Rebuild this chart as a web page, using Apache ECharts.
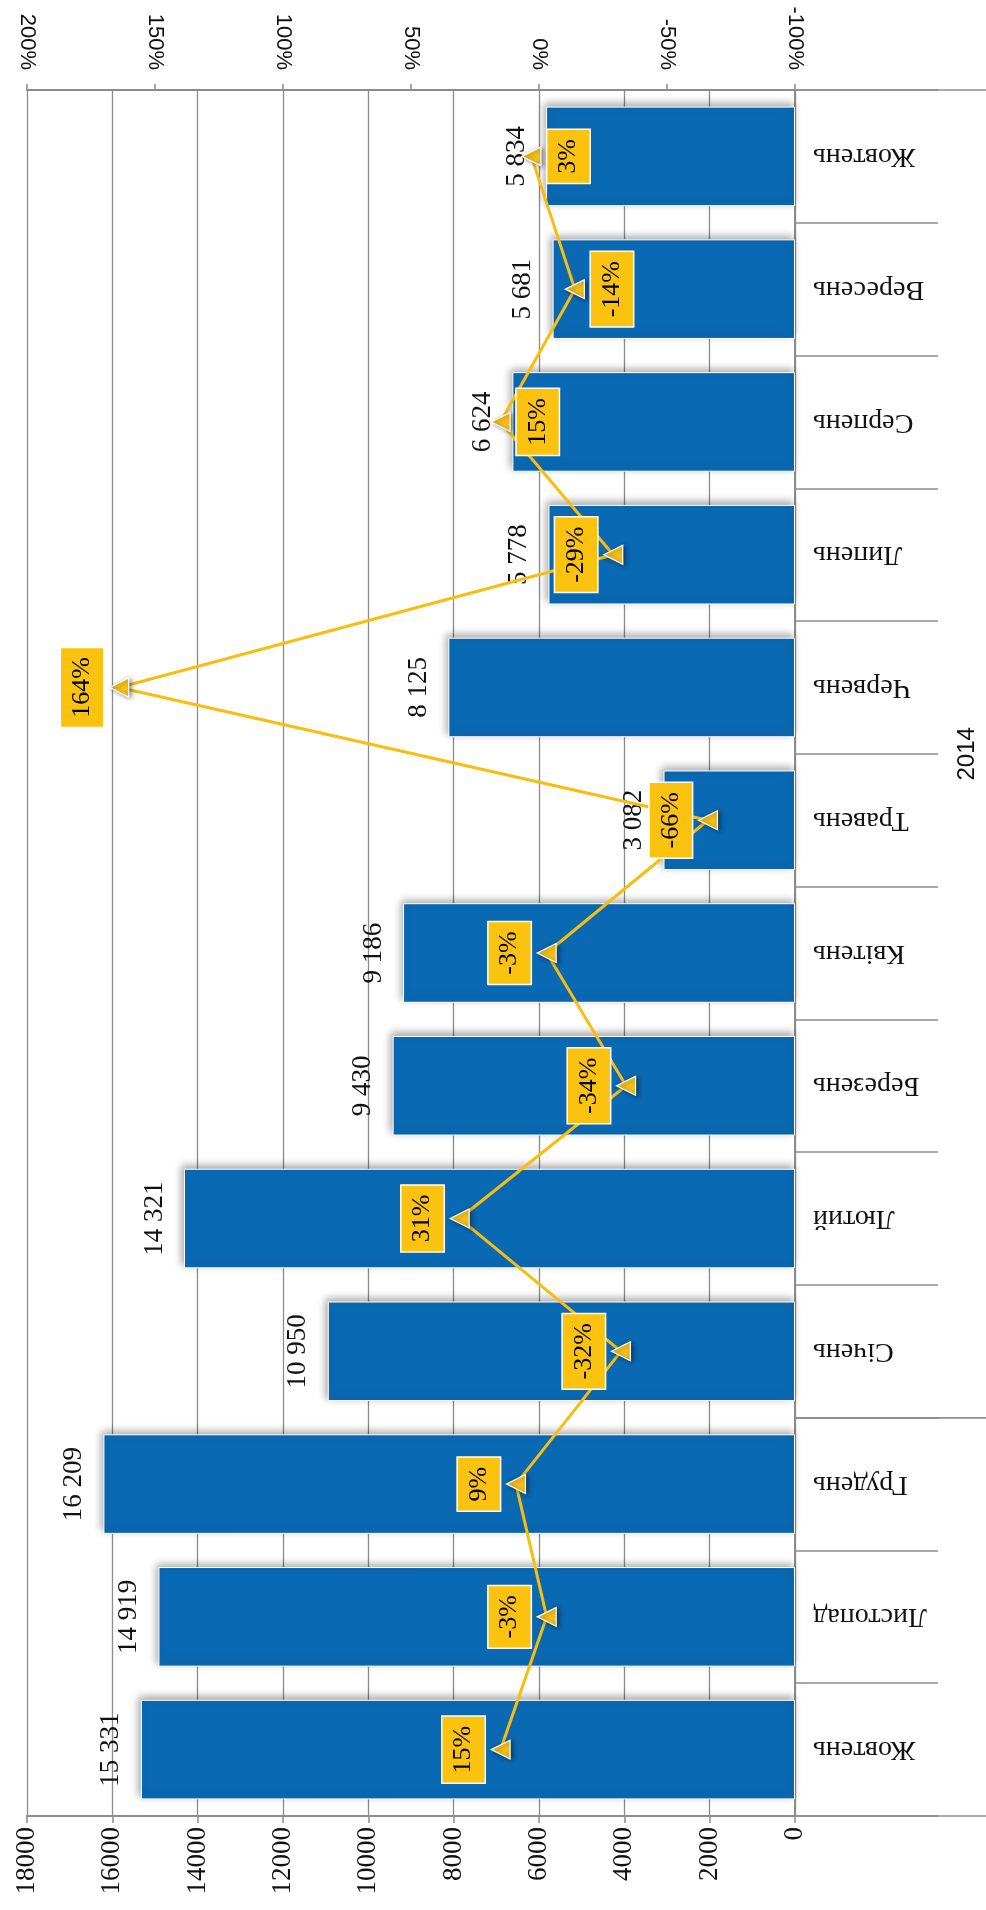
<!DOCTYPE html>
<html>
<head>
<meta charset="utf-8">
<script src="https://cdn.jsdelivr.net/npm/echarts@6/dist/echarts.min.js"></script>
<style>
  html, body { margin: 0; padding: 0; background: #fff; }
  #chart { width: 986px; height: 1910px; }
</style>
</head>
<body>
<div id="chart"></div>
<script>
// months Oct 2013 .. Oct 2014
var months = ['Жовтень', 'Листопад', 'Грудень', 'Січень', 'Лютий', 'Березень', 'Квітень',
              'Травень', 'Червень', 'Липень', 'Серпень', 'Вересень', 'Жовтень'];
var volumes = [15331, 14919, 16209, 10950, 14321, 9430, 9186, 3082, 8125, 5778, 6624, 5681, 5834];
var changes = [15, -3, 9, -32, 31, -34, -3, -66, 164, -29, 15, -14, 3];
var valueTicks = { min: 0, max: 18000, step: 2000 };
var pctTicks = { min: -100, max: 200, step: 50 };
// year groups: first and last category index
var yearGroups = [{ from: 0, to: 2, text: '' }, { from: 3, to: 12, text: '2014' }];

var serif = "'Liberation Serif', 'Times New Roman', serif";
var sans = "'Liberation Sans', Arial, sans-serif";
var gray = '#8c8c8c';

function spaced(n) {
    return String(n).replace(/\B(?=(\d{3})+(?!\d))/g, ' ');
}

var chartDom = document.getElementById('chart');
var myChart = echarts.init(chartDom);
var option;

var lineData = changes.map(function (v, i) {
    // last three labels sit on the other side of the marker
    if (i >= 10) {
        return { value: v, label: { position: 'right', verticalAlign: 'top' } };
    }
    return { value: v };
});

option = {
    animation: false,
    grid: { left: 27, right: 191, top: 90, bottom: 94 },
    xAxis: [
        {
            type: 'value',
            position: 'bottom',
            inverse: true,
            min: valueTicks.min,
            max: valueTicks.max,
            interval: valueTicks.step,
            axisLine: { show: true, lineStyle: { color: gray, width: 2 } },
            axisTick: { show: true, length: 7, lineStyle: { color: gray, width: 1.5 } },
            splitLine: { show: true, lineStyle: { color: gray, width: 1.3 } },
            axisLabel: {
                rotate: 90, margin: 11, color: '#111', fontFamily: serif, fontSize: 27,
                formatter: function (v) { return String(v); }
            }
        },
        {
            type: 'value',
            position: 'top',
            inverse: true,
            min: pctTicks.min,
            max: pctTicks.max,
            interval: pctTicks.step,
            axisLine: { show: true, lineStyle: { color: gray, width: 2 } },
            axisTick: { show: true, length: 6, lineStyle: { color: gray, width: 1.5 } },
            splitLine: { show: false },
            axisLabel: { rotate: 90, margin: 20, color: '#111', fontFamily: sans, fontSize: 22, formatter: '{value}%' }
        }
    ],
    yAxis: [
        {
            type: 'category',
            data: months,
            position: 'right',
            axisLine: { show: true, lineStyle: { color: gray, width: 2 } },
            axisTick: { show: true, length: 143, lineStyle: { color: gray, width: 1.5 } },
            splitLine: { show: false },
            axisLabel: { interval: 0, rotate: 180, margin: 18, color: '#111', fontFamily: serif, fontSize: 28 }
        }
    ],
    series: [
        {
            name: 'volume',
            type: 'bar',
            xAxisIndex: 0,
            yAxisIndex: 0,
            data: volumes,
            barCategoryGap: '25%',
            itemStyle: {
                color: '#0a69b3',
                borderColor: '#fff',
                borderWidth: 1,
                shadowBlur: 8,
                shadowColor: 'rgba(0,0,0,0.35)',
                shadowOffsetX: -2,
                shadowOffsetY: -3
            },
            label: {
                show: true,
                position: 'left',
                rotate: 90,
                align: 'center',
                verticalAlign: 'bottom',
                distance: 16,
                color: '#111',
                fontFamily: serif,
                fontSize: 27,
                formatter: function (p) { return spaced(p.value); }
            }
        },
        {
            name: 'change',
            type: 'line',
            xAxisIndex: 1,
            yAxisIndex: 0,
            data: lineData,
            z: 5,
            lineStyle: { color: '#f8bd0f', width: 3 },
            symbol: 'triangle',
            symbolSize: 19,
            symbolRotate: 90,
            itemStyle: {
                color: '#f9c11a',
                borderColor: '#fff',
                borderWidth: 1.2,
                shadowBlur: 5,
                shadowColor: 'rgba(0,0,0,0.45)',
                shadowOffsetX: 2,
                shadowOffsetY: 1
            },
            label: {
                show: true,
                position: 'left',
                rotate: 90,
                align: 'center',
                verticalAlign: 'bottom',
                distance: 6,
                formatter: '{c}%',
                backgroundColor: '#fbc30f',
                borderColor: '#fff',
                borderWidth: 1.5,
                padding: [8, 9],
                color: '#000',
                fontFamily: serif,
                fontSize: 26
            }
        }
    ]
};

myChart.setOption(option);

// year separators and year label, placed from the category axis
var axisX = myChart.convertToPixel({ xAxisIndex: 0 }, 0);
var fullW = myChart.getWidth();
var c0 = myChart.convertToPixel({ yAxisIndex: 0 }, 0);
var c1 = myChart.convertToPixel({ yAxisIndex: 0 }, 1);
var band = c0 - c1;
function edgeBelow(i) { return myChart.convertToPixel({ yAxisIndex: 0 }, i) + band / 2; }
function edgeAbove(i) { return myChart.convertToPixel({ yAxisIndex: 0 }, i) - band / 2; }

var graphics = [];
yearGroups.forEach(function (g) {
    [edgeBelow(g.from), edgeAbove(g.to)].forEach(function (y) {
        graphics.push({
            type: 'line',
            shape: { x1: axisX, y1: y, x2: fullW, y2: y },
            style: { stroke: gray, lineWidth: 1.5 },
            silent: true
        });
    });
    if (g.text) {
        graphics.push({
            type: 'text',
            x: axisX + 172,
            y: (edgeBelow(g.from) + edgeAbove(g.to)) / 2,
            rotation: Math.PI / 2,
            style: {
                text: g.text,
                align: 'center',
                verticalAlign: 'middle',
                fill: '#111',
                font: "24px 'Liberation Sans Narrow', 'Liberation Sans', sans-serif"
            },
            silent: true
        });
    }
});
myChart.setOption({ graphic: graphics });
</script>
</body>
</html>
